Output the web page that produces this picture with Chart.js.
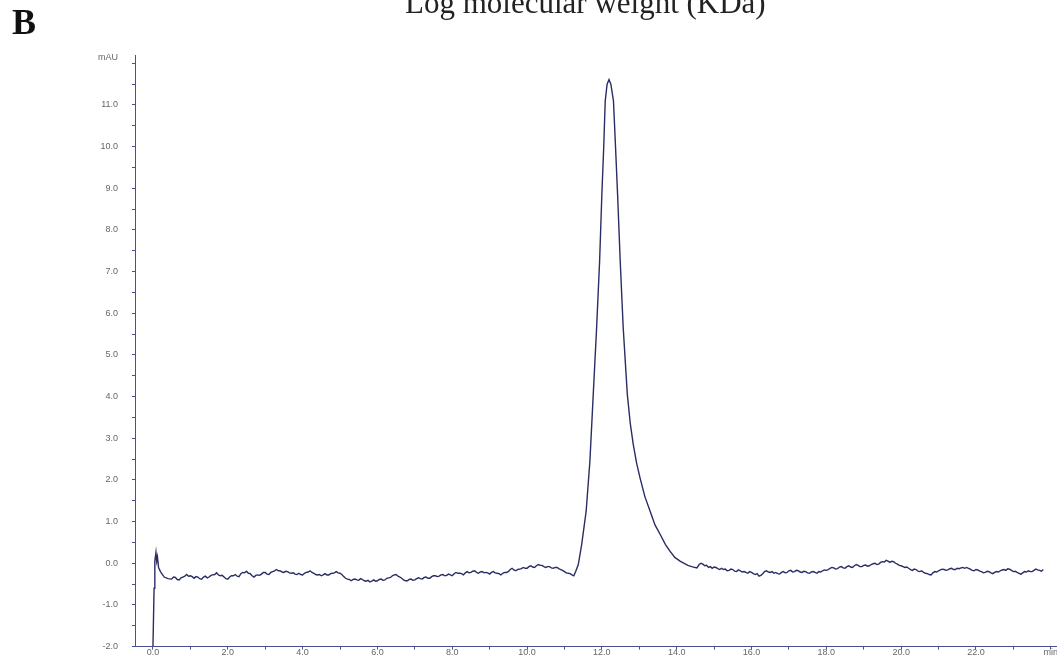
<!DOCTYPE html>
<html>
<head>
<meta charset="utf-8">
<script src="https://cdn.jsdelivr.net/npm/chart.js@4/dist/chart.umd.min.js"></script>
<style>
  html, body { margin: 0; padding: 0; background: #fff; overflow: hidden; width: 1057px; height: 657px; }
  #wrap { position: absolute; left: 0; top: 0; width: 1062px; height: 666px; }
  #panel { position: absolute; left: 12px; top: 4px; font: bold 36px "Liberation Serif", "Times New Roman", serif; line-height: 1; color: #111; }
  #title { position: absolute; left: 405px; top: -13px; font: 31px "Liberation Serif", "Times New Roman", serif; line-height: 1; color: #222; white-space: nowrap; }
</style>
</head>
<body>
<div id="wrap"><canvas id="chart" width="1062" height="666"></canvas></div>
<div id="title">Log molecular weight (KDa)</div>
<div id="panel">B</div>
<script>
// injection spike at t = 0
const spikeTime = [0.00, 0.03, 0.05, 0.08, 0.10, 0.12, 0.15, 0.20, 0.30, 0.40];
const spikeAbs  = [-2.0, -0.6, 0.05, 0.26, 0.05, 0.15, -0.10, -0.20, -0.33, -0.37];

// baseline before the peak (min, mAU)
const preTime = [
  0.50, 0.55, 0.60, 0.65, 0.70, 0.75, 0.80, 0.85, 0.90, 0.95,
  1.00, 1.05, 1.10, 1.15, 1.20, 1.25, 1.30, 1.35, 1.40, 1.45,
  1.50, 1.55, 1.60, 1.65, 1.70, 1.75, 1.80, 1.85, 1.90, 1.95,
  2.00, 2.05, 2.10, 2.15, 2.20, 2.25, 2.30, 2.35, 2.40, 2.45,
  2.50, 2.55, 2.60, 2.65, 2.70, 2.75, 2.80, 2.85, 2.90, 2.95,
  3.00, 3.05, 3.10, 3.15, 3.20, 3.25, 3.30, 3.35, 3.40, 3.45,
  3.50, 3.55, 3.60, 3.65, 3.70, 3.75, 3.80, 3.85, 3.90, 3.95,
  4.00, 4.05, 4.10, 4.15, 4.20, 4.25, 4.30, 4.35, 4.40, 4.45,
  4.50, 4.55, 4.60, 4.65, 4.70, 4.75, 4.80, 4.85, 4.90, 4.95,
  5.00, 5.05, 5.10, 5.15, 5.20, 5.25, 5.30, 5.35, 5.40, 5.45,
  5.50, 5.55, 5.60, 5.65, 5.70, 5.75, 5.80, 5.85, 5.90, 5.95,
  6.00, 6.05, 6.10, 6.15, 6.20, 6.25, 6.30, 6.35, 6.40, 6.45,
  6.50, 6.55, 6.60, 6.65, 6.70, 6.75, 6.80, 6.85, 6.90, 6.95,
  7.00, 7.05, 7.10, 7.15, 7.20, 7.25, 7.30, 7.35, 7.40, 7.45,
  7.50, 7.55, 7.60, 7.65, 7.70, 7.75, 7.80, 7.85, 7.90, 7.95,
  8.00, 8.05, 8.10, 8.15, 8.20, 8.25, 8.30, 8.35, 8.40, 8.45,
  8.50, 8.55, 8.60, 8.65, 8.70, 8.75, 8.80, 8.85, 8.90, 8.95,
  9.00, 9.05, 9.10, 9.15, 9.20, 9.25, 9.30, 9.35, 9.40, 9.45,
  9.50, 9.55, 9.60, 9.65, 9.70, 9.75, 9.80, 9.85, 9.90, 9.95,
  10.00, 10.05, 10.10, 10.15, 10.20, 10.25, 10.30, 10.35, 10.40, 10.45,
  10.50, 10.55, 10.60, 10.65, 10.70, 10.75, 10.80, 10.85, 10.90, 10.95,
  11.00, 11.05, 11.10, 11.15, 11.20, 11.25];
const preAbs = [
  -0.38, -0.33, -0.34, -0.39, -0.40, -0.35, -0.33, -0.31, -0.27, -0.31,
  -0.30, -0.32, -0.36, -0.32, -0.33, -0.37, -0.38, -0.33, -0.31, -0.35,
  -0.33, -0.29, -0.28, -0.27, -0.23, -0.28, -0.30, -0.29, -0.33, -0.37,
  -0.38, -0.33, -0.30, -0.30, -0.27, -0.31, -0.32, -0.25, -0.22, -0.23,
  -0.19, -0.24, -0.25, -0.30, -0.33, -0.29, -0.28, -0.29, -0.26, -0.22,
  -0.22, -0.26, -0.27, -0.22, -0.20, -0.18, -0.15, -0.18, -0.18, -0.21,
  -0.22, -0.19, -0.20, -0.23, -0.24, -0.23, -0.26, -0.27, -0.24, -0.27,
  -0.28, -0.24, -0.22, -0.21, -0.18, -0.22, -0.24, -0.27, -0.28, -0.27,
  -0.30, -0.28, -0.25, -0.28, -0.28, -0.25, -0.24, -0.23, -0.20, -0.23,
  -0.24, -0.27, -0.32, -0.36, -0.38, -0.39, -0.42, -0.39, -0.38, -0.40,
  -0.41, -0.37, -0.39, -0.42, -0.43, -0.41, -0.45, -0.43, -0.40, -0.43,
  -0.42, -0.39, -0.38, -0.41, -0.40, -0.36, -0.35, -0.34, -0.30, -0.28,
  -0.27, -0.31, -0.33, -0.36, -0.40, -0.42, -0.42, -0.39, -0.38, -0.41,
  -0.40, -0.37, -0.35, -0.37, -0.38, -0.34, -0.33, -0.36, -0.36, -0.32,
  -0.30, -0.30, -0.32, -0.31, -0.28, -0.27, -0.30, -0.29, -0.26, -0.28,
  -0.30, -0.25, -0.22, -0.24, -0.24, -0.25, -0.28, -0.23, -0.20, -0.23,
  -0.22, -0.19, -0.18, -0.22, -0.24, -0.21, -0.20, -0.23, -0.22, -0.23,
  -0.26, -0.22, -0.20, -0.23, -0.24, -0.25, -0.28, -0.24, -0.22, -0.22,
  -0.20, -0.15, -0.12, -0.16, -0.18, -0.15, -0.14, -0.13, -0.10, -0.12,
  -0.12, -0.08, -0.06, -0.09, -0.10, -0.06, -0.03, -0.05, -0.05, -0.08,
  -0.10, -0.08, -0.08, -0.11, -0.12, -0.10, -0.10, -0.13, -0.15, -0.17,
  -0.20, -0.23, -0.24, -0.25, -0.28, -0.30];

// main elution peak
const peakTime = [11.30, 11.37, 11.46, 11.52, 11.58, 11.68, 11.77, 11.86, 11.94, 12.00, 12.05, 12.09, 12.14, 12.19,
  12.24, 12.31, 12.36, 12.42, 12.49, 12.57, 12.68, 12.76, 12.84, 12.93, 13.02, 13.15, 13.29, 13.42, 13.56,
  13.70, 13.82, 13.95, 14.09, 14.20, 14.30, 14.40, 14.54];
const peakAbs = [-0.20, -0.03, 0.45, 0.85, 1.25, 2.45, 4.06, 5.66, 7.26, 8.86, 10.0, 11.1, 11.5, 11.61,
  11.5, 11.1, 10.1, 8.86, 7.26, 5.66, 4.06, 3.35, 2.85, 2.40, 2.05, 1.60, 1.25, 0.92, 0.69,
  0.45, 0.29, 0.14, 0.05, 0.00, -0.05, -0.08, -0.11];

// baseline after the peak
const postTime = [
  14.60, 14.65, 14.70, 14.75, 14.80, 14.85, 14.90, 14.95, 15.00, 15.05,
  15.10, 15.15, 15.20, 15.25, 15.30, 15.35, 15.40, 15.45, 15.50, 15.55,
  15.60, 15.65, 15.70, 15.75, 15.80, 15.85, 15.90, 15.95, 16.00, 16.05,
  16.10, 16.15, 16.20, 16.25, 16.30, 16.35, 16.40, 16.45, 16.50, 16.55,
  16.60, 16.65, 16.70, 16.75, 16.80, 16.85, 16.90, 16.95, 17.00, 17.05,
  17.10, 17.15, 17.20, 17.25, 17.30, 17.35, 17.40, 17.45, 17.50, 17.55,
  17.60, 17.65, 17.70, 17.75, 17.80, 17.85, 17.90, 17.95, 18.00, 18.05,
  18.10, 18.15, 18.20, 18.25, 18.30, 18.35, 18.40, 18.45, 18.50, 18.55,
  18.60, 18.65, 18.70, 18.75, 18.80, 18.85, 18.90, 18.95, 19.00, 19.05,
  19.10, 19.15, 19.20, 19.25, 19.30, 19.35, 19.40, 19.45, 19.50, 19.55,
  19.60, 19.65, 19.70, 19.75, 19.80, 19.85, 19.90, 19.95, 20.00, 20.05,
  20.10, 20.15, 20.20, 20.25, 20.30, 20.35, 20.40, 20.45, 20.50, 20.55,
  20.60, 20.65, 20.70, 20.75, 20.80, 20.85, 20.90, 20.95, 21.00, 21.05,
  21.10, 21.15, 21.20, 21.25, 21.30, 21.35, 21.40, 21.45, 21.50, 21.55,
  21.60, 21.65, 21.70, 21.75, 21.80, 21.85, 21.90, 21.95, 22.00, 22.05,
  22.10, 22.15, 22.20, 22.25, 22.30, 22.35, 22.40, 22.45, 22.50, 22.55,
  22.60, 22.65, 22.70, 22.75, 22.80, 22.85, 22.90, 22.95, 23.00, 23.05,
  23.10, 23.15, 23.20, 23.25, 23.30, 23.35, 23.40, 23.45, 23.50, 23.55,
  23.60, 23.65, 23.70, 23.75, 23.80];
const postAbs = [
  -0.03, 0.00, -0.02, -0.06, -0.05, -0.10, -0.08, -0.12, -0.09, -0.10,
  -0.13, -0.15, -0.12, -0.15, -0.14, -0.18, -0.17, -0.14, -0.15, -0.19,
  -0.20, -0.16, -0.18, -0.21, -0.20, -0.22, -0.24, -0.20, -0.22, -0.25,
  -0.27, -0.25, -0.31, -0.29, -0.25, -0.20, -0.18, -0.21, -0.22, -0.20,
  -0.24, -0.22, -0.25, -0.26, -0.22, -0.20, -0.23, -0.22, -0.18, -0.17,
  -0.21, -0.20, -0.17, -0.18, -0.21, -0.22, -0.19, -0.20, -0.23, -0.24,
  -0.21, -0.20, -0.22, -0.24, -0.20, -0.21, -0.18, -0.16, -0.17, -0.15,
  -0.12, -0.10, -0.11, -0.14, -0.13, -0.09, -0.08, -0.11, -0.12, -0.08,
  -0.06, -0.09, -0.10, -0.06, -0.03, -0.05, -0.08, -0.08, -0.05, -0.04,
  -0.07, -0.06, -0.03, -0.01, 0.00, -0.03, -0.02, 0.02, 0.04, 0.03,
  0.07, 0.05, 0.02, 0.05, 0.04, 0.00, -0.02, -0.05, -0.06, -0.08,
  -0.10, -0.09, -0.12, -0.15, -0.17, -0.14, -0.15, -0.19, -0.20, -0.18,
  -0.22, -0.24, -0.25, -0.27, -0.28, -0.23, -0.20, -0.21, -0.18, -0.16,
  -0.14, -0.15, -0.17, -0.16, -0.13, -0.12, -0.15, -0.15, -0.12, -0.13,
  -0.11, -0.10, -0.12, -0.10, -0.12, -0.14, -0.17, -0.18, -0.15, -0.16,
  -0.19, -0.20, -0.23, -0.22, -0.19, -0.20, -0.23, -0.25, -0.22, -0.20,
  -0.21, -0.18, -0.16, -0.15, -0.17, -0.13, -0.14, -0.17, -0.20, -0.19,
  -0.22, -0.24, -0.26, -0.23, -0.20, -0.21, -0.18, -0.20, -0.20, -0.17,
  -0.14, -0.16, -0.17, -0.19, -0.15];

const xTickValues = [0, 1, 2, 3, 4, 5, 6, 7, 8, 9, 10, 11, 12, 13, 14, 15, 16, 17, 18, 19, 20, 21, 22, 23, 24];
const yTickValues = [-2, -1.5, -1, -0.5, 0, 0.5, 1, 1.5, 2, 2.5, 3, 3.5, 4, 4.5, 5, 5.5, 6, 6.5, 7, 7.5,
  8, 8.5, 9, 9.5, 10, 10.5, 11, 11.5, 12];
const yUnitPos = 12.13;

const times = spikeTime.concat(preTime, peakTime, postTime);
const values = spikeAbs.concat(preAbs, peakAbs, postAbs);
const points = times.map((t, i) => ({ x: t, y: values[i] }));

const axisColor = "#4b4f92";
const labelColor = "#666";

new Chart(document.getElementById("chart"), {
  type: "line",
  data: {
    datasets: [{
      data: points,
      borderColor: "#2a2c64",
      borderWidth: 1.4,
      pointRadius: 0,
      tension: 0,
      fill: false
    }]
  },
  options: {
    responsive: false,
    animation: false,
    layout: { padding: { top: 55, left: 0, right: 0, bottom: 0 } },
    plugins: { legend: { display: false }, tooltip: { enabled: false } },
    scales: {
      x: {
        type: "linear",
        min: -0.48,
        max: 24.3,
        afterBuildTicks: (axis) => { axis.ticks = xTickValues.map(v => ({ value: v })); },
        afterFit: (axis) => { axis.height = 11; },
        border: { display: true, color: axisColor, width: 1 },
        grid: { drawOnChartArea: false, drawTicks: true, tickLength: 3, color: axisColor },
        ticks: {
          autoSkip: false,
          maxRotation: 0,
          padding: -2,
          color: labelColor,
          font: { family: "Liberation Sans, Arial", size: 9 },
          callback: (v) => v === 24 ? "min" : (v % 2 === 0 ? v.toFixed(1) : "")
        }
      },
      y: {
        min: -2,
        max: 12.2,
        afterBuildTicks: (axis) => {
          axis.ticks = yTickValues.concat([yUnitPos]).map(v => ({ value: v }));
        },
        afterFit: (axis) => { axis.width = 135; },
        border: { display: true, color: axisColor, width: 1 },
        grid: {
          drawOnChartArea: false,
          drawTicks: true,
          tickLength: 3,
          tickColor: (ctx) => (ctx.tick && ctx.tick.value === yUnitPos) ? "rgba(0,0,0,0)" : axisColor
        },
        ticks: {
          autoSkip: false,
          padding: 14,
          color: labelColor,
          font: { family: "Liberation Sans, Arial", size: 9 },
          callback: (v) => {
            if (v === yUnitPos) return "mAU";
            if (v === 12) return "";
            return Number.isInteger(v) ? v.toFixed(1) : "";
          }
        }
      }
    }
  }
});
</script>
</body>
</html>
